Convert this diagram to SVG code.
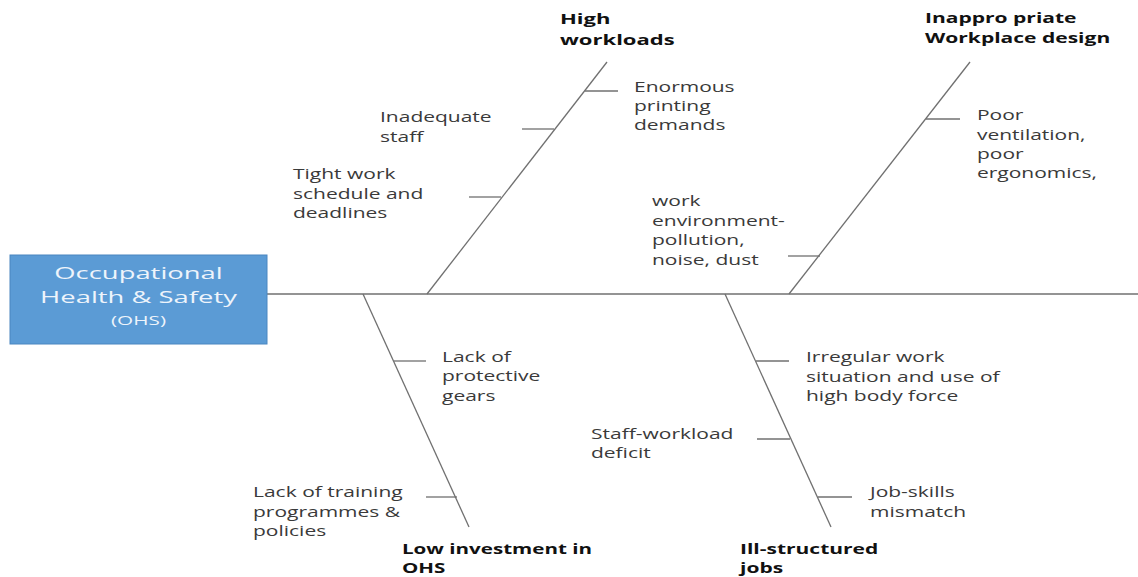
<svg xmlns="http://www.w3.org/2000/svg" width="1138" height="577" viewBox="0 0 1138 577">
<style>
  .bg { fill: #ffffff; }
  .ln { stroke: #707070; stroke-width: 1.3; fill: none; }
  .head { fill: #5b9bd5; stroke: #4a86c0; stroke-width: 1; }
  .ht { font-family: "Open Sans", "DejaVu Sans", sans-serif; font-size: 16.5px; fill: #eef4fb; text-anchor: middle; }
  .hs { font-family: "Open Sans", "DejaVu Sans", sans-serif; font-size: 12.5px; fill: #eef4fb; text-anchor: middle; }
  .cat { font-family: "Open Sans", "DejaVu Sans", sans-serif; font-size: 14.5px; font-weight: bold; fill: #111111; }
  .catb { font-family: "Open Sans", "DejaVu Sans", sans-serif; font-size: 14px; font-weight: bold; fill: #111111; }
  .cause { font-family: "Open Sans", "DejaVu Sans", sans-serif; font-size: 14px; fill: #3a3a3a; }
</style>
<rect class="bg" x="0" y="0" width="1138" height="577"/>

<g id="connectors">
  <line class="ln" x1="267" y1="294" x2="1138" y2="294"/>
  <line class="ln" x1="427" y1="294" x2="607" y2="62"/>
  <line class="ln" x1="789" y1="294" x2="970" y2="62"/>
  <line class="ln" x1="363" y1="294" x2="469" y2="527"/>
  <line class="ln" x1="725" y1="294" x2="831" y2="527"/>
  <line class="ln" x1="585" y1="91" x2="618" y2="91"/>
  <line class="ln" x1="522" y1="129" x2="554" y2="129"/>
  <line class="ln" x1="469" y1="197" x2="501" y2="197"/>
  <line class="ln" x1="926" y1="119" x2="960" y2="119"/>
  <line class="ln" x1="788" y1="256" x2="820" y2="256"/>
  <line class="ln" x1="394" y1="361" x2="426" y2="361"/>
  <line class="ln" x1="426" y1="497" x2="457" y2="497"/>
  <line class="ln" x1="756" y1="361" x2="789" y2="361"/>
  <line class="ln" x1="757" y1="439" x2="790" y2="439"/>
  <line class="ln" x1="818" y1="497" x2="852" y2="497"/>
</g>

<g id="ohs">
  <rect class="head" x="10" y="255" width="257" height="89"/>
  <text class="ht" transform="translate(138.5,279) scale(1.66,1)">Occupational</text>
  <text class="ht" transform="translate(138.5,303) scale(1.66,1)">Health &amp; Safety</text>
  <text class="hs" transform="translate(138.5,325) scale(1.66,1)">(OHS)</text>
</g>

<g id="cat-high-workloads">
  <text class="cat" transform="translate(560,24) scale(1.52,1)"><tspan x="0" y="0">High</tspan><tspan x="0" y="21">workloads</tspan></text>
</g>
<g id="cat-workplace-design">
  <text class="cat" transform="translate(925,23) scale(1.45,1)"><tspan x="0" y="0">Inappro priate</tspan><tspan x="0" y="20">Workplace design</tspan></text>
</g>
<g id="cat-low-investment">
  <text class="catb" transform="translate(402,554) scale(1.47,1)"><tspan x="0" y="0">Low investment in</tspan><tspan x="0" y="19">OHS</tspan></text>
</g>
<g id="cat-ill-structured">
  <text class="catb" transform="translate(740,554) scale(1.5,1)"><tspan x="0" y="0">Ill-structured</tspan><tspan x="0" y="19">jobs</tspan></text>
</g>

<g id="cause-enormous">
  <text class="cause" transform="translate(634,92) scale(1.5,1)"><tspan x="0" y="0">Enormous</tspan><tspan x="0" y="19">printing</tspan><tspan x="0" y="38">demands</tspan></text>
</g>
<g id="cause-inadequate">
  <text class="cause" transform="translate(380,122) scale(1.5,1)"><tspan x="0" y="0">Inadequate</tspan><tspan x="0" y="20">staff</tspan></text>
</g>
<g id="cause-tight">
  <text class="cause" transform="translate(293,179) scale(1.5,1)"><tspan x="0" y="0">Tight work</tspan><tspan x="0" y="20">schedule and</tspan><tspan x="0" y="39">deadlines</tspan></text>
</g>
<g id="cause-environment">
  <text class="cause" transform="translate(652,206) scale(1.5,1)"><tspan x="0" y="0">work</tspan><tspan x="0" y="20">environment-</tspan><tspan x="0" y="39.5">pollution,</tspan><tspan x="0" y="59">noise, dust</tspan></text>
</g>
<g id="cause-ventilation">
  <text class="cause" transform="translate(977,120) scale(1.5,1)"><tspan x="0" y="0">Poor</tspan><tspan x="0" y="20">ventilation,</tspan><tspan x="0" y="39">poor</tspan><tspan x="0" y="58">ergonomics,</tspan></text>
</g>
<g id="cause-gears">
  <text class="cause" transform="translate(442,362) scale(1.5,1)"><tspan x="0" y="0">Lack of</tspan><tspan x="0" y="19.5">protective</tspan><tspan x="0" y="39">gears</tspan></text>
</g>
<g id="cause-training">
  <text class="cause" transform="translate(253,497) scale(1.5,1)"><tspan x="0" y="0">Lack of training</tspan><tspan x="0" y="20">programmes &amp;</tspan><tspan x="0" y="39">policies</tspan></text>
</g>
<g id="cause-irregular">
  <text class="cause" transform="translate(806,362) scale(1.5,1)"><tspan x="0" y="0">Irregular work</tspan><tspan x="0" y="20">situation and use of</tspan><tspan x="0" y="39">high body force</tspan></text>
</g>
<g id="cause-staff-workload">
  <text class="cause" transform="translate(591,439) scale(1.5,1)"><tspan x="0" y="0">Staff-workload</tspan><tspan x="0" y="19">deficit</tspan></text>
</g>
<g id="cause-job-skills">
  <text class="cause" transform="translate(870,497) scale(1.5,1)"><tspan x="0" y="0">Job-skills</tspan><tspan x="0" y="20">mismatch</tspan></text>
</g>
</svg>
